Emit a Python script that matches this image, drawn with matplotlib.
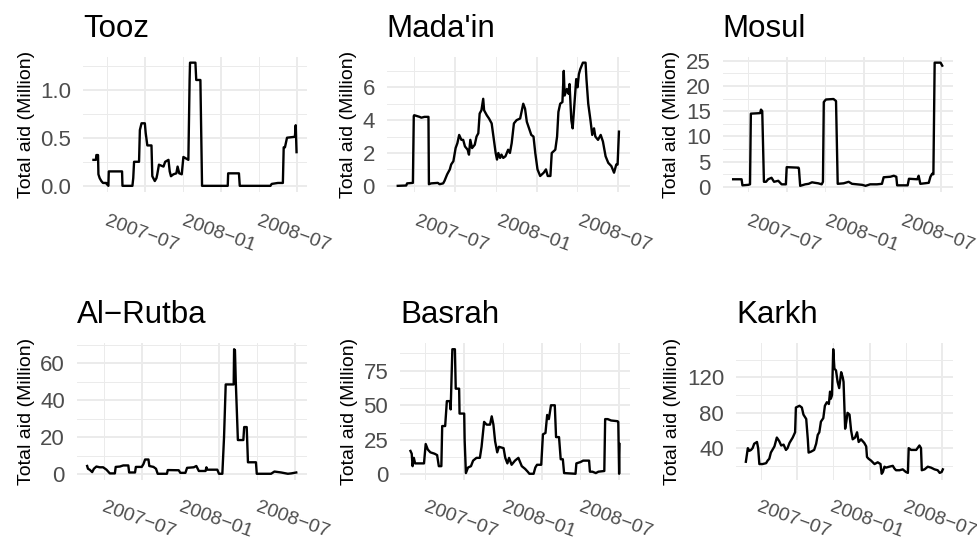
import matplotlib
matplotlib.use("Agg")
import matplotlib.pyplot as plt
import matplotlib.dates as mdates
import matplotlib.transforms as mtransforms
import pandas as pd

plt.rcParams["font.family"] = ["Liberation Sans", "DejaVu Sans"]

# ── Data: total aid per district (million), breakpoints of the running total ──
tooz_dates = ["2007-02-27", "2007-03-05", "2007-03-06", "2007-03-10", "2007-03-11", "2007-03-14",
              "2007-03-18", "2007-03-22", "2007-03-30", "2007-03-31", "2007-04-04", "2007-04-05",
              "2007-05-07", "2007-05-08", "2007-06-01", "2007-06-03", "2007-06-05", "2007-06-17",
              "2007-06-19", "2007-06-23", "2007-07-01", "2007-07-03", "2007-07-07", "2007-07-17",
              "2007-07-19", "2007-07-25", "2007-07-29", "2007-07-31", "2007-08-04", "2007-08-15",
              "2007-08-19", "2007-08-27", "2007-08-30", "2007-09-02", "2007-09-08", "2007-09-15",
              "2007-09-18", "2007-09-22", "2007-09-28", "2007-10-02", "2007-10-14", "2007-10-17",
              "2007-10-18", "2007-10-31", "2007-11-02", "2007-11-12", "2007-11-16", "2008-01-17",
              "2008-01-18", "2008-02-13", "2008-02-15", "2008-04-29", "2008-05-02", "2008-05-17",
              "2008-05-29", "2008-05-31", "2008-06-03", "2008-06-08", "2008-06-27", "2008-06-29",
              "2008-07-01"]
tooz_aid = [0.27, 0.27, 0.32, 0.32, 0.12, 0.08,
            0.05, 0.03, 0.03, 0.02, 0.0, 0.15,
            0.15, 0.0, 0.0, 0.08, 0.25, 0.25,
            0.58, 0.65, 0.65, 0.55, 0.42, 0.42,
            0.10, 0.05, 0.08, 0.12, 0.22, 0.20,
            0.25, 0.27, 0.15, 0.10, 0.12, 0.13,
            0.20, 0.13, 0.12, 0.30, 0.27, 1.10,
            1.28, 1.28, 1.10, 1.10, 0.0, 0.0,
            0.13, 0.13, 0.0, 0.0, 0.02, 0.03,
            0.03, 0.40, 0.40, 0.50, 0.51, 0.63,
            0.35]

madain_dates = ["2007-02-23", "2007-03-14", "2007-03-16", "2007-03-29", "2007-03-31", "2007-04-01",
                "2007-04-13", "2007-04-17", "2007-04-24", "2007-05-03", "2007-05-04", "2007-05-09",
                "2007-05-24", "2007-05-28", "2007-06-05", "2007-06-08", "2007-06-14", "2007-06-20",
                "2007-06-23", "2007-06-28", "2007-07-03", "2007-07-07", "2007-07-11", "2007-07-16",
                "2007-07-20", "2007-07-24", "2007-07-30", "2007-08-02", "2007-08-05", "2007-08-09",
                "2007-08-15", "2007-08-19", "2007-08-23", "2007-08-26", "2007-08-30", "2007-09-03",
                "2007-09-05", "2007-09-11", "2007-09-16", "2007-09-22", "2007-09-26", "2007-10-01",
                "2007-10-04", "2007-10-07", "2007-10-11", "2007-10-14", "2007-10-18", "2007-10-23",
                "2007-10-29", "2007-11-02", "2007-11-06", "2007-11-11", "2007-11-17", "2007-11-25",
                "2007-12-02", "2007-12-06", "2007-12-10", "2007-12-15", "2007-12-20", "2007-12-25",
                "2007-12-29", "2008-01-03", "2008-01-09", "2008-01-17", "2008-01-22", "2008-01-26",
                "2008-02-01", "2008-02-04", "2008-02-12", "2008-02-16", "2008-02-19", "2008-02-23",
                "2008-02-28", "2008-03-02", "2008-03-04", "2008-03-09", "2008-03-13", "2008-03-15",
                "2008-03-19", "2008-03-22", "2008-03-26", "2008-03-30", "2008-04-02", "2008-04-05",
                "2008-04-08", "2008-04-14", "2008-04-20", "2008-04-22", "2008-04-26", "2008-05-01",
                "2008-05-05", "2008-05-09", "2008-05-12", "2008-05-18", "2008-05-24", "2008-05-29",
                "2008-06-04", "2008-06-10", "2008-06-17", "2008-06-23", "2008-06-28", "2008-07-01",
                "2008-07-04"]
madain_aid = [0.0, 0.02, 0.15, 0.18, 4.25, 4.3,
              4.2, 4.15, 4.2, 4.2, 0.1, 0.15,
              0.18, 0.1, 0.15, 0.3, 0.7, 1.0,
              1.3, 1.5, 2.3, 2.6, 3.1, 2.8,
              2.8, 2.4, 2.2, 1.9, 2.8, 2.3,
              2.5, 3.0, 3.2, 4.4, 4.6, 5.3,
              4.6, 4.3, 4.1, 3.8, 3.0, 2.0,
              1.6, 2.0, 1.7, 1.9, 1.7, 1.8,
              2.2, 2.0, 2.6, 3.8, 4.0, 4.1,
              5.0, 4.7, 3.9, 3.5, 3.1, 3.0,
              2.0, 1.0, 0.6, 0.8, 1.0, 0.6,
              0.6, 2.0, 2.2, 3.0, 4.5, 5.0,
              5.1, 7.0, 5.5, 5.9, 5.6, 6.2,
              4.0, 3.5, 5.0, 6.5, 6.0, 6.8,
              7.1, 7.5, 7.5, 6.5, 5.0, 4.0,
              3.1, 3.5, 3.0, 2.8, 3.1, 2.7,
              1.8, 1.4, 1.2, 0.8, 1.3, 1.3,
              3.3]

mosul_dates = ["2007-02-24", "2007-03-16", "2007-03-18", "2007-04-01", "2007-04-05", "2007-04-07",
               "2007-04-29", "2007-05-01", "2007-05-04", "2007-05-08", "2007-05-13", "2007-05-18",
               "2007-05-26", "2007-06-01", "2007-06-11", "2007-06-19", "2007-06-29", "2007-07-01",
               "2007-07-29", "2007-07-30", "2007-08-02", "2007-08-14", "2007-08-22", "2007-08-30",
               "2007-09-06", "2007-09-14", "2007-09-22", "2007-09-25", "2007-09-27", "2007-10-02",
               "2007-10-20", "2007-10-26", "2007-10-30", "2007-11-13", "2007-11-25", "2007-12-03",
               "2007-12-15", "2007-12-27", "2008-01-04", "2008-01-15", "2008-01-31", "2008-02-12",
               "2008-02-16", "2008-03-03", "2008-03-11", "2008-03-17", "2008-03-19", "2008-04-13",
               "2008-04-16", "2008-05-06", "2008-05-09", "2008-05-13", "2008-06-02", "2008-06-06",
               "2008-06-10", "2008-06-13", "2008-06-16", "2008-06-30", "2008-07-04"]
mosul_aid = [1.5, 1.5, 0.3, 0.4, 0.5, 14.5,
             14.6, 15.3, 15.0, 1.0, 1.0, 1.5,
             1.8, 1.0, 1.2, 0.5, 0.5, 3.9,
             3.8, 3.6, 0.2, 0.5, 0.6, 0.9,
             0.8, 0.7, 0.5, 1.0, 16.8, 17.3,
             17.4, 17.0, 0.6, 0.7, 1.0, 0.6,
             0.5, 0.4, 0.2, 0.5, 0.5, 0.6,
             1.9, 2.0, 2.2, 2.0, 0.3, 0.3,
             1.6, 1.5, 2.2, 0.6, 0.8, 2.0,
             2.6, 2.5, 24.6, 24.6, 24.0]

rutba_dates = ["2007-02-21", "2007-02-23", "2007-02-27", "2007-03-05", "2007-03-09", "2007-03-15",
               "2007-03-23", "2007-03-31", "2007-04-08", "2007-04-16", "2007-04-28", "2007-04-30",
               "2007-05-10", "2007-05-18", "2007-05-30", "2007-06-01", "2007-06-15", "2007-06-17",
               "2007-07-01", "2007-07-05", "2007-07-09", "2007-07-17", "2007-07-19", "2007-07-29",
               "2007-08-04", "2007-08-08", "2007-08-30", "2007-09-01", "2007-09-27", "2007-10-01",
               "2007-10-13", "2007-10-17", "2007-11-02", "2007-11-08", "2007-11-14", "2007-11-30",
               "2007-12-02", "2007-12-04", "2007-12-28", "2008-01-01", "2008-01-09", "2008-01-13",
               "2008-01-17", "2008-02-05", "2008-02-06", "2008-02-08", "2008-02-10", "2008-02-15",
               "2008-02-28", "2008-03-01", "2008-03-07", "2008-03-10", "2008-03-29", "2008-03-31",
               "2008-05-04", "2008-05-12", "2008-05-28", "2008-06-13", "2008-06-21", "2008-07-03"]
rutba_aid = [4.5, 3.0, 2.5, 1.2, 3.0, 4.2,
             3.8, 3.8, 2.5, 0.5, 0.5, 4.0,
             4.2, 4.8, 4.8, 1.0, 1.0, 4.0,
             4.0, 5.5, 8.0, 8.0, 4.5, 4.0,
             3.0, 0.3, 0.3, 2.3, 2.2, 0.8,
             0.8, 3.5, 3.8, 4.5, 1.8, 1.8,
             3.8, 2.5, 2.5, 0.3, 0.3, 20.0,
             48.5, 48.5, 67.5, 67.0, 50.0, 18.5,
             18.5, 25.5, 25.5, 6.5, 6.5, 0.3,
             0.3, 1.5, 1.0, 0.3, 0.5, 1.0]

basrah_dates = ["2007-02-25", "2007-02-28", "2007-03-02", "2007-03-05", "2007-03-08", "2007-03-29",
                "2007-04-02", "2007-04-07", "2007-04-13", "2007-04-23", "2007-04-29", "2007-05-03",
                "2007-05-09", "2007-05-11", "2007-05-18", "2007-05-22", "2007-05-29", "2007-05-31",
                "2007-06-04", "2007-06-10", "2007-06-12", "2007-06-20", "2007-06-21", "2007-07-02",
                "2007-07-03", "2007-07-06", "2007-07-11", "2007-07-18", "2007-07-23", "2007-07-31",
                "2007-08-08", "2007-08-12", "2007-08-18", "2007-08-24", "2007-09-01", "2007-09-05",
                "2007-09-09", "2007-09-13", "2007-09-18", "2007-09-22", "2007-10-03", "2007-10-07",
                "2007-10-12", "2007-10-16", "2007-10-22", "2007-10-30", "2007-11-07", "2007-11-15",
                "2007-11-23", "2007-11-29", "2007-12-03", "2007-12-13", "2007-12-17", "2007-12-21",
                "2007-12-31", "2008-01-04", "2008-01-10", "2008-01-14", "2008-01-18", "2008-01-23",
                "2008-02-01", "2008-02-04", "2008-02-11", "2008-02-15", "2008-02-20", "2008-02-23",
                "2008-03-21", "2008-03-23", "2008-04-02", "2008-04-08", "2008-04-22", "2008-04-24",
                "2008-04-30", "2008-05-08", "2008-05-14", "2008-05-28", "2008-05-30", "2008-06-05",
                "2008-06-13", "2008-06-28", "2008-06-30", "2008-07-02", "2008-07-03"]
basrah_aid = [17, 15, 6, 12, 8, 8,
              22, 18, 16, 15, 14, 6,
              6, 35, 35, 53, 53, 47,
              90.5, 90.5, 62, 62, 44, 44,
              25, 1, 5, 6, 10, 12,
              12, 20, 38, 36, 36, 42,
              36, 24, 16, 20, 19, 12,
              8, 12, 7, 10, 12, 6,
              4, 2, 0.5, 0.5, 5, 7,
              7, 29, 30, 43, 40, 50,
              50, 27, 27, 11, 11, 1,
              0.5, 8, 9, 10, 10, 2,
              2, 1, 2, 2.5, 40, 40,
              39, 38.5, 38, 0.5, 22]

karkh_dates = ["2007-02-23", "2007-02-28", "2007-03-04", "2007-03-08", "2007-03-12", "2007-03-16",
               "2007-03-23", "2007-03-26", "2007-03-29", "2007-04-06", "2007-04-15", "2007-04-19",
               "2007-04-23", "2007-04-27", "2007-05-06", "2007-05-12", "2007-05-18", "2007-05-23",
               "2007-05-29", "2007-06-04", "2007-06-08", "2007-06-13", "2007-06-21", "2007-06-27",
               "2007-06-29", "2007-07-08", "2007-07-14", "2007-07-18", "2007-07-25", "2007-07-29",
               "2007-07-31", "2007-08-06", "2007-08-14", "2007-08-19", "2007-08-23", "2007-08-27",
               "2007-08-31", "2007-09-06", "2007-09-10", "2007-09-15", "2007-09-20", "2007-09-23",
               "2007-09-25", "2007-09-28", "2007-10-01", "2007-10-04", "2007-10-08", "2007-10-12",
               "2007-10-16", "2007-10-21", "2007-10-25", "2007-10-27", "2007-10-31", "2007-11-03",
               "2007-11-06", "2007-11-11", "2007-11-15", "2007-11-19", "2007-11-25", "2007-11-30",
               "2007-12-04", "2007-12-10", "2007-12-18", "2007-12-23", "2007-12-25", "2007-12-29",
               "2008-01-04", "2008-01-13", "2008-01-21", "2008-01-28", "2008-01-31", "2008-02-03",
               "2008-02-07", "2008-02-11", "2008-02-19", "2008-02-28", "2008-03-03", "2008-03-07",
               "2008-03-16", "2008-03-24", "2008-04-01", "2008-04-06", "2008-04-08", "2008-04-14",
               "2008-04-27", "2008-05-05", "2008-05-09", "2008-05-11", "2008-05-18", "2008-05-26",
               "2008-06-03", "2008-06-12", "2008-06-20", "2008-06-25", "2008-06-30", "2008-07-03"]
karkh_aid = [24.6, 40, 37, 38, 40, 45,
             47, 40, 22, 22, 23, 26,
             28, 35, 42, 52, 48, 43,
             44, 38, 40, 46, 52, 58,
             86, 88, 86, 78, 73, 50,
             35, 36, 38, 45, 55, 58,
             70, 74, 88, 92, 90, 104,
             96, 100, 152, 130, 128, 115,
             108, 126, 120, 115, 62, 70,
             80, 78, 60, 50, 52, 58,
             47, 50, 46, 42, 30, 28,
             26, 22, 24, 22, 11, 13,
             19, 18, 19, 20, 17, 15,
             15, 16, 13, 12, 40, 38,
             38, 43, 40, 15, 16, 19,
             18, 16, 15, 12, 13, 16]

x_breaks = ["2007-07-01", "2008-01-01", "2008-07-01"]
x_minor = ["2007-04-01", "2007-10-01", "2008-04-01"]
x_tick_labels = ["2007\u221207", "2008\u221201", "2008\u221207"]

# name, dates, values, y breaks, y minor breaks, tick format, plot box (l, t, r, b) px
panels = [
    ("Tooz", tooz_dates, tooz_aid, [0, 0.5, 1.0], [0.25, 0.75, 1.25], "{:.1f}",
     (83.3, 56.5, 306.7, 192)),
    ("Mada'in", madain_dates, madain_aid, [0, 2, 4, 6], [1, 3, 5, 7], "{:g}",
     (386.7, 56.5, 630, 192)),
    ("Mosul", mosul_dates, mosul_aid, [0, 5, 10, 15, 20, 25], [2.5, 7.5, 12.5, 17.5, 22.5], "{:g}",
     (722.7, 56.5, 952.7, 192)),
    ("Al\u2212Rutba", rutba_dates, rutba_aid, [0, 20, 40, 60], [10, 30, 50, 70], "{:g}",
     (76.7, 343, 306.7, 480)),
    ("Basrah", basrah_dates, basrah_aid, [0, 25, 50, 75], [12.5, 37.5, 62.5, 87.5], "{:g}",
     (400, 343, 630, 480)),
    ("Karkh", karkh_dates, karkh_aid, [40, 80, 120], [20, 60, 100, 140], "{:g}",
     (736, 343, 952.7, 480)),
]

W, H = 977, 544
fig = plt.figure(figsize=(W / 100, H / 100), dpi=100)
nudge = mtransforms.ScaledTranslation(-3 / 100, 0, fig.dpi_scale_trans)

def to_num(dates):
    return mdates.date2num(pd.to_datetime(dates))

for i, (name, dates, vals, yb, ymin, fmt, (l, t, r, b)) in enumerate(panels):
    ax = fig.add_axes([l / W, 1 - b / H, (r - l) / W, (b - t) / H])
    ax.plot(pd.to_datetime(dates), vals, color="black", lw=1.7, solid_joinstyle="round")
    xlim, ylim = ax.get_xlim(), ax.get_ylim()

    ax.set_xticks(to_num(x_breaks))
    ax.set_xticks(to_num(x_minor), minor=True)
    ax.set_yticks(yb)
    ax.set_yticks(ymin, minor=True)
    ax.set_yticklabels([fmt.format(v) for v in yb])
    ax.set_xlim(xlim); ax.set_ylim(ylim)

    ax.grid(which="major", color="#EBEBEB", lw=1.4)
    ax.grid(which="minor", color="#EBEBEB", lw=0.7)
    ax.set_axisbelow(True)
    for s in ax.spines.values():
        s.set_visible(False)
    ax.tick_params(which="both", length=0)
    ax.tick_params(axis="y", labelsize=16, labelcolor="#4D4D4D", pad=8.5)
    ax.tick_params(axis="x", labelsize=14, labelcolor="#4D4D4D", pad=30 if i < 3 else 28.5)
    ax.set_xticklabels(x_tick_labels, rotation=-20, ha="center", va="center",
                       rotation_mode="anchor")
    for lab in ax.get_xticklabels():
        lab.set_transform(lab.get_transform() + nudge)
    ax.set_ylabel("Total aid (Million)", fontsize=14, labelpad=4)
    ax.set_title(name, loc="left", fontsize=22.5, pad=14.3)

fig.savefig("out.png", dpi=100)
